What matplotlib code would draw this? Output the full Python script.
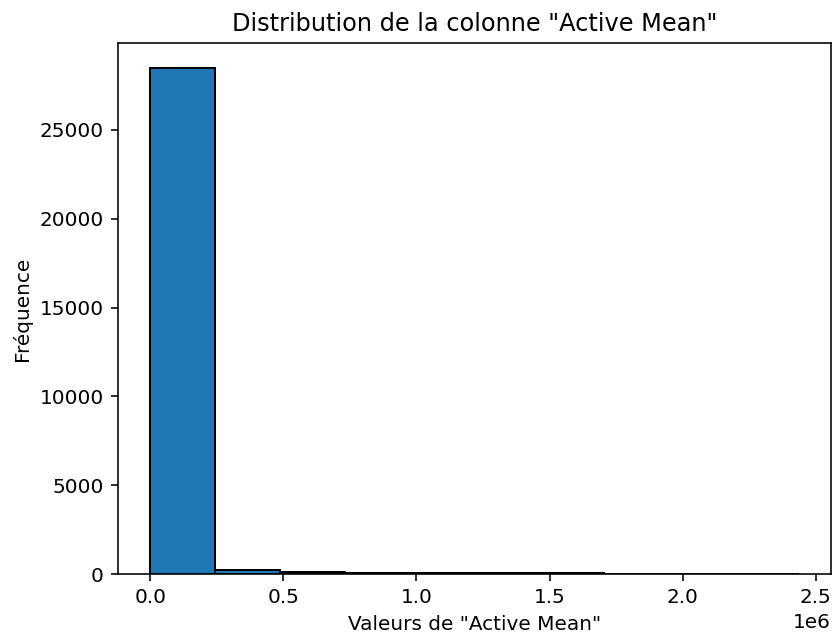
import numpy as np
import matplotlib
matplotlib.use("Agg")
import matplotlib.pyplot as plt

# Histogram of the "Active Mean" column: 10 equal-width bins
value_min = 0.0
value_max = 2.436e6
n_bins = 10
bin_counts = [28470, 230, 110, 45, 40, 35, 30, 0, 0, 2]

title = 'Distribution de la colonne "Active Mean"'
x_label = 'Valeurs de "Active Mean"'
y_label = 'Fréquence'

bin_edges = np.linspace(value_min, value_max, n_bins + 1)
bin_centers = 0.5 * (bin_edges[:-1] + bin_edges[1:])

fig = plt.figure(figsize=(832 / 144, 637 / 144), dpi=144)
ax = fig.add_axes([118 / 832, 63 / 637, 713 / 832, 531 / 637])

ax.hist(bin_centers, bins=bin_edges, weights=bin_counts,
        color="#1f77b4", edgecolor="black")

ax.set_title(title)
ax.set_xlabel(x_label)
ax.set_ylabel(y_label)

fig.savefig("out.png", dpi=144)
